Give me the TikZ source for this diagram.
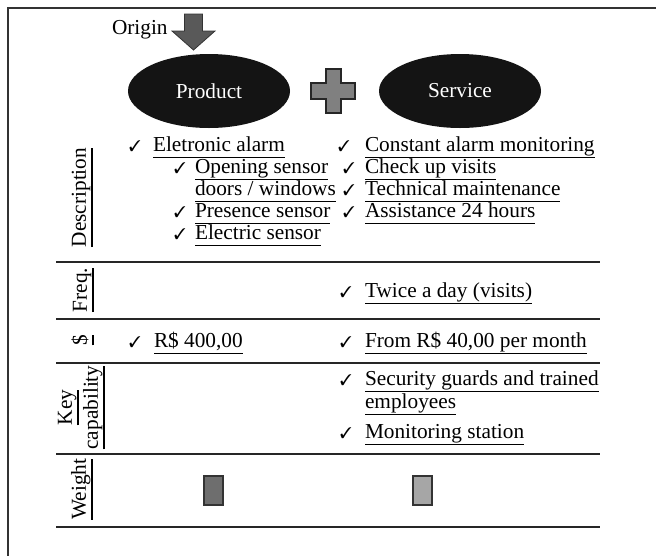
\documentclass[tikz,border=0pt]{standalone}
\usepackage{fontspec}
\setmainfont{Liberation Serif}
\usepackage{pifont}
\usetikzlibrary{shapes.geometric}
% underline at a fixed distance below the baseline
\newcommand\undl[1]{\setbox0\hbox{#1}\vtop{\copy0\kern-\dp0\kern5.5pt\hrule height1.4pt}}
\begin{document}
\begin{tikzpicture}[x=1pt,y=-1pt,
  txt/.style={inner sep=0pt,outer sep=0pt,font=\fontsize{21.3}{22}\selectfont,anchor=base west},
  chk/.style={inner sep=0pt,outer sep=0pt,font=\fontsize{15.5}{16}\selectfont,anchor=base west},
  rowlabel/.style={inner sep=0pt,outer sep=0pt,font=\fontsize{21.3}{22}\selectfont,rotate=90,anchor=south},
  rule/.style={line width=1.6pt,draw=black!85},
  blob/.style={ellipse,fill=black!92,text=white,minimum width=162pt,minimum height=74pt,inner sep=0pt,font=\fontsize{21.3}{22}\selectfont},
  weightbox/.style={draw=black!80,line width=1.2pt,minimum width=19pt,minimum height=29pt,inner sep=0pt}
]
\useasboundingbox (0,0) rectangle (656,555);
\clip (0,0) rectangle (656,555);
% outer frame
\draw[line width=1.2pt,black!80] (8,8) rectangle (670,570);

% origin arrow
\node[txt] (origin) at (112,34) {Origin};
\draw[fill=black!65,draw=black!80,line width=0.8pt]
  (184.5,14) -- (202.5,14) -- (202.5,31) -- (215,31) -- (193.5,50) -- (172,31) -- (184.5,31) -- cycle;

% product + service
\node[blob] (product) at (209,91) {Product};
\node[blob] (service) at (460,91) {Service};
\draw[fill=black!50,draw=black!85,line width=1.3pt]
  (326,69) -- (341,69) -- (341,83) -- (355,83) -- (355,99) -- (341,99) -- (341,113)
  -- (326,113) -- (326,99) -- (311,99) -- (311,83) -- (326,83) -- cycle;

% row separators
\foreach \yy/\nm in {262/r1,319/r2,363/r3,454/r4,527/r5}{
  \coordinate (\nm w) at (56,\yy);
  \coordinate (\nm e) at (600,\yy);
  \draw[rule] (\nm w) -- (\nm e);
}

% row labels
\node[rowlabel] (ldesc) at (92.7,197.5) {\undl{Description}};
\node[rowlabel] (lfreq) at (93.7,290) {\undl{Freq.}};
\node[rowlabel] (lcost) at (93.7,340) {\undl{\$}};
\node[rowlabel] (lkey) at (78.7,407.5) {\undl{Key}};
\node[rowlabel] (lcap) at (104.7,407.5) {\undl{capability}};
\node[rowlabel] (lweight) at (92.7,489) {\undl{Weight}};

% description: product
\node[chk] (c1) at (129,151) {\ding{51}};
\node[txt] (p1) at (153,151) {\undl{Eletronic alarm}};
\node[chk] (c2) at (174,173) {\ding{51}};
\node[txt] (p2) at (195,173) {\undl{Opening sensor}};
\node[txt] (p3) at (195,195) {\undl{doors / windows}};
\node[chk] (c4) at (174,217) {\ding{51}};
\node[txt] (p4) at (195,217) {\undl{Presence sensor}};
\node[chk] (c5) at (174,239) {\ding{51}};
\node[txt] (p5) at (195,239) {\undl{Electric sensor}};

% description: service
\node[chk] (d1) at (338,151) {\ding{51}};
\node[txt] (s1) at (365,151) {\undl{Constant alarm monitoring}};
\node[chk] (d2) at (343,173) {\ding{51}};
\node[txt] (s2) at (365,173) {\undl{Check up visits}};
\node[chk] (d3) at (343,195) {\ding{51}};
\node[txt] (s3) at (365,195) {\undl{Technical maintenance}};
\node[chk] (d4) at (343,217) {\ding{51}};
\node[txt] (s4) at (365,217) {\undl{Assistance 24 hours}};

% frequency
\node[chk] (f1) at (340,297) {\ding{51}};
\node[txt] (fq) at (365,297) {\undl{Twice a day (visits)}};

% cost
\node[chk] (e1) at (129,347) {\ding{51}};
\node[txt] (pc) at (154,347) {\undl{R\$ 400,00}};
\node[chk] (e2) at (340,347) {\ding{51}};
\node[txt] (sc) at (365,347) {\undl{From R\$ 40,00 per month}};

% key capability
\node[chk] (k1) at (340,385) {\ding{51}};
\node[txt] (kc1) at (365,385) {\undl{Security guards and trained}};
\node[txt] (kc2) at (365,408) {\undl{employees}};
\node[chk] (k2) at (340,438) {\ding{51}};
\node[txt] (kc3) at (365,438) {\undl{Monitoring station}};

% weight
\node[weightbox,fill=black!57] (wp) at (213.5,490.5) {};
\node[weightbox,fill=black!35] (ws) at (422.5,490.5) {};
\end{tikzpicture}
\end{document}
